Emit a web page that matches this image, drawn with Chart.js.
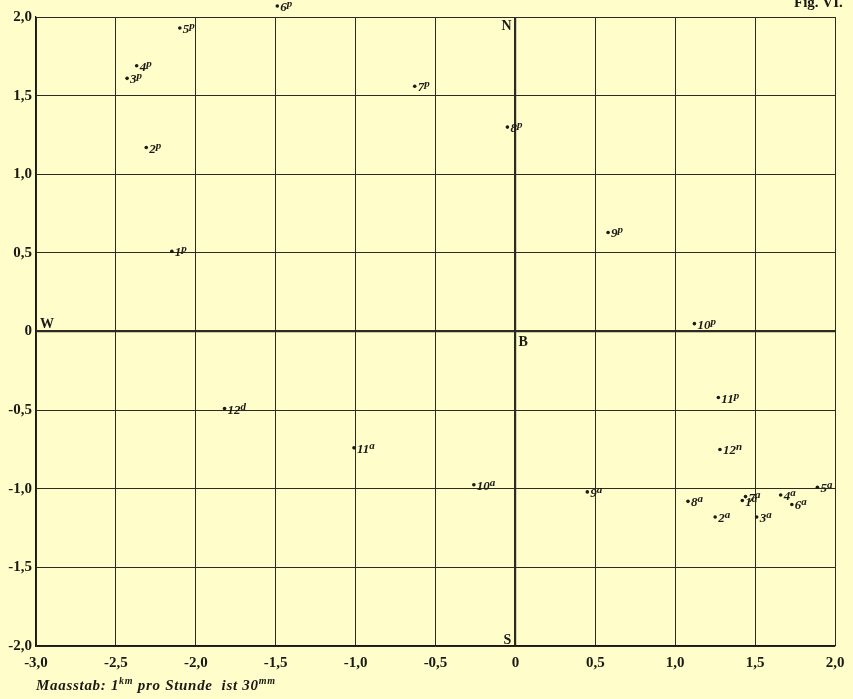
<!DOCTYPE html>
<html lang="de">
<head>
  <meta charset="UTF-8">
  <title>Fig. VI.</title>
  <script src="https://cdn.jsdelivr.net/npm/chart.js"></script>
  <style>
    html, body { margin: 0; padding: 0; background: #fffdc9; }
    canvas { display: block; }
  </style>
</head>
<body>
  <canvas id="myChart" width="853" height="699"></canvas>

  <script>
    // Stunden-Marken: Zahl, Index (hochgestellt), Ost-West, Nord-Sued
    const hourNums = ['1', '2', '3', '4', '5', '6', '7', '8', '9', '10', '11', '12',
                      '1', '2', '3', '4', '5', '6', '7', '8', '9', '10', '11', '12', '12']
    const hourSups = ['p', 'p', 'p', 'p', 'p', 'p', 'p', 'p', 'p', 'p', 'p', 'n',
                      'a', 'a', 'a', 'a', 'a', 'a', 'a', 'a', 'a', 'a', 'a', 'd']
    const xValues  = [-2.15, -2.31, -2.43, -2.37, -2.10, -1.49, -0.63, -0.05, 0.58, 1.12, 1.27, 1.28,
                       1.42,  1.25,  1.51,  1.66,  1.89,  1.73,  1.44,  1.08, 0.45, -0.26, -1.01, -1.82]
    const yValues  = [ 0.51,  1.17,  1.61,  1.69,  1.93,  2.07,  1.56,  1.30, 0.63, 0.05, -0.42, -0.75,
                      -1.075, -1.18, -1.18, -1.04, -0.99, -1.10, -1.05, -1.08, -1.02, -0.975, -0.74, -0.49]

    const xTicks = [-3, -2.5, -2, -1.5, -1, -0.5, 0, 0.5, 1, 1.5, 2]
    const yTicks = [-2, -1.5, -1, -0.5, 0, 0.5, 1, 1.5, 2]

    const points = xValues.map((x, i) => ({ x: x, y: yValues[i], num: hourNums[i], sup: hourSups[i] }))

    const fmt = v => v === 0 ? '0' : (v < 0 ? '-' : '') + Math.abs(v).toFixed(1).replace('.', ',')
    const ink = '#1a1a14'

    const labelPlugin = {
      id: 'labels',
      afterDatasetsDraw(chart) {
        const ctx = chart.ctx
        const area = chart.chartArea
        const meta = chart.getDatasetMeta(0)
        ctx.save()
        ctx.fillStyle = ink
        ctx.textBaseline = 'alphabetic'
        meta.data.forEach((el, i) => {
          const p = points[i]
          // Punkte ausserhalb der Flaeche zeichnet Chart.js nicht
          if (el.y < area.top || el.y > area.bottom || el.x < area.left || el.x > area.right) {
            ctx.beginPath()
            ctx.arc(el.x, el.y, 1.8, 0, Math.PI * 2)
            ctx.fill()
          }
          let x = el.x + 3
          const y = el.y + 5
          ctx.font = 'italic bold 13px "Liberation Serif"'
          ctx.fillText(p.num, x, y)
          x += ctx.measureText(p.num).width
          ctx.font = 'italic bold 11px "Liberation Serif"'
          ctx.fillText(p.sup, x, y - 4)
        })

        // Himmelsrichtungen
        const xs = chart.scales.x, ys = chart.scales.y
        ctx.font = 'bold 14px "Liberation Serif"'
        ctx.fillText('N', xs.getPixelForValue(0) - 14, ys.getPixelForValue(2) + 13)
        ctx.fillText('S', xs.getPixelForValue(0) - 12, ys.getPixelForValue(-2) - 2)
        ctx.fillText('B', xs.getPixelForValue(0) + 3, ys.getPixelForValue(0) + 14)
        ctx.fillText('W', xs.getPixelForValue(-3) + 4, ys.getPixelForValue(0) - 4)

        // Titel und Massstab
        ctx.font = 'bold 15px "Liberation Serif"'
        ctx.fillText('Fig. VI.', 794, 7)

        let cx = 36
        const cy = 690
        ctx.letterSpacing = '0.7px'
        const parts = [['Maasstab: ', 0], ['1', 0], ['km', 1], [' pro Stunde  ist ', 0], ['30', 0], ['mm', 1]]
        parts.forEach(([t, s]) => {
          ctx.font = s ? 'italic bold 10px "Liberation Serif"' : 'italic bold 15px "Liberation Serif"'
          ctx.fillText(t, cx, s ? cy - 6 : cy)
          cx += ctx.measureText(t).width
        })
        ctx.restore()
      }
    }

    const gridWidth = c => c.tick && c.tick.value === 0 ? 2.2 : 1

    new Chart(document.getElementById('myChart'), {
      type: 'scatter',
      data: {
        datasets: [{
          data: points,
          pointRadius: 1.8,
          pointHoverRadius: 1.8,
          backgroundColor: ink,
          borderWidth: 0,
          clip: false
        }]
      },
      options: {
        responsive: false,
        animation: false,
        events: [],
        layout: { padding: { top: 17, right: 18, left: 0, bottom: 0 } },
        plugins: { legend: { display: false }, tooltip: { enabled: false } },
        scales: {
          x: {
            type: 'linear',
            min: -3,
            max: 2,
            afterBuildTicks: s => { s.ticks = xTicks.map(v => ({ value: v })) },
            afterFit: s => { s.height = 53 },
            border: { color: ink, width: 1.2 },
            grid: { color: '#2b2b22', lineWidth: gridWidth, drawTicks: false },
            ticks: {
              color: ink,
              padding: 8,
              maxRotation: 0,
              font: { family: 'Liberation Serif', weight: 'bold', size: 15 },
              callback: v => fmt(v)
            }
          },
          y: {
            type: 'linear',
            min: -2,
            max: 2,
            afterBuildTicks: s => { s.ticks = yTicks.map(v => ({ value: v })) },
            afterFit: s => { s.width = 36 },
            border: { color: ink, width: 1.2 },
            grid: { color: '#2b2b22', lineWidth: gridWidth, drawTicks: false },
            ticks: {
              color: ink,
              padding: 4,
              font: { family: 'Liberation Serif', weight: 'bold', size: 15 },
              callback: v => fmt(v)
            }
          }
        }
      },
      plugins: [labelPlugin]
    })
  </script>
</body>
</html>
